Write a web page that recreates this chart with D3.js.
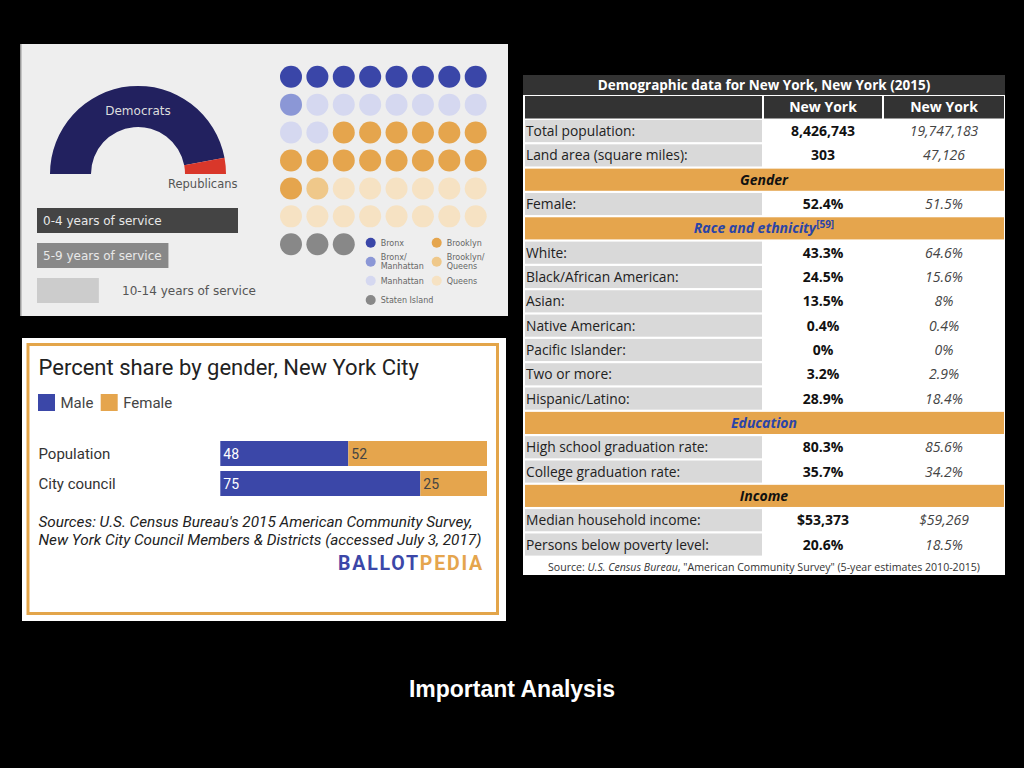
<!DOCTYPE html>
<html>
<head>
<meta charset="utf-8">
<script src="https://d3js.org/d3.v7.min.js"></script>
<style>
  body { margin: 0; background: #000; }
  svg { display: block; }
</style>
</head>
<body>
<script>
// --- council composition (51 members) ---
var parties = ['Democrats', 'Republicans'];
var partySeats = [48, 3];
var partyColors = ['#22215f', '#d9372a'];

var serviceLabels = ['0-4 years of service', '5-9 years of service', '10-14 years of service'];
var serviceCounts = [26, 17, 8];
var serviceColors = ['#444444', '#888888', '#cccccc'];

var boroughs = ['Bronx', 'Bronx/Manhattan', 'Manhattan', 'Brooklyn', 'Brooklyn/Queens', 'Queens', 'Staten Island'];
var boroughCounts = [8, 1, 9, 15, 1, 14, 3];
var boroughColors = ['#3a46a8', '#8b97d6', '#d5d8f0', '#e5a54d', '#efc88a', '#f6e2c3', '#888888'];

// --- gender share ---
var genderGroups = ['Population', 'City council'];
var malePct = [48, 75];
var femalePct = [52, 25];

// --- demographic table ---
var tableTitle = 'Demographic data for New York, New York (2015)';
var tableCols = ['New York', 'New York'];
var tableRows = [
  ['Total population:', '8,426,743', '19,747,183'],
  ['Land area (square miles):', '303', '47,126'],
  ['Gender'],
  ['Female:', '52.4%', '51.5%'],
  ['Race and ethnicity', '[59]'],
  ['White:', '43.3%', '64.6%'],
  ['Black/African American:', '24.5%', '15.6%'],
  ['Asian:', '13.5%', '8%'],
  ['Native American:', '0.4%', '0.4%'],
  ['Pacific Islander:', '0%', '0%'],
  ['Two or more:', '3.2%', '2.9%'],
  ['Hispanic/Latino:', '28.9%', '18.4%'],
  ['Education'],
  ['High school graduation rate:', '80.3%', '85.6%'],
  ['College graduation rate:', '35.7%', '34.2%'],
  ['Income'],
  ['Median household income:', '$53,373', '$59,269'],
  ['Persons below poverty level:', '20.6%', '18.5%']
];
var linkSections = ['Race and ethnicity', 'Education'];

var svg = d3.select('body').append('svg')
    .attr('width', 1024).attr('height', 768);

svg.append('rect').attr('width', 1024).attr('height', 768).attr('fill', '#000');

// ================= top-left panel =================
var p1 = svg.append('g');
p1.append('rect').attr('x', 20).attr('y', 44).attr('width', 488).attr('height', 272)
    .attr('fill', '#eeeeee');
p1.append('rect').attr('x', 20).attr('y', 44).attr('width', 1.5).attr('height', 272)
    .attr('fill', '#999');

var pie = d3.pie().sort(null).startAngle(-Math.PI / 2).endAngle(Math.PI / 2);
var arc = d3.arc().innerRadius(47).outerRadius(88);
var donut = p1.append('g').attr('transform', 'translate(138,174)');
donut.selectAll('path')
    .data(pie(partySeats))
    .enter().append('path')
    .attr('d', arc)
    .attr('fill', function (d, i) { return partyColors[i]; });

p1.append('text').attr('x', 138).attr('y', 115).attr('text-anchor', 'middle')
    .attr('font-family', 'DejaVu Sans').attr('font-size', 12).attr('fill', '#dddddd')
    .text(parties[0]);
p1.append('text').attr('x', 168).attr('y', 188)
    .attr('font-family', 'DejaVu Sans').attr('font-size', 11.5).attr('fill', '#555')
    .text(parties[1]);

var sx = d3.scaleLinear().domain([0, 26]).range([0, 201]);
var sy = d3.scaleBand().domain(serviceLabels).range([208, 303]).paddingInner(10 / 35);
p1.selectAll('.svc')
    .data(serviceLabels)
    .enter().append('rect')
    .attr('x', 37)
    .attr('y', function (d) { return sy(d); })
    .attr('width', function (d, i) { return sx(serviceCounts[i]); })
    .attr('height', sy.bandwidth())
    .attr('fill', function (d, i) { return serviceColors[i]; });
p1.selectAll('.svcl')
    .data(serviceLabels)
    .enter().append('text')
    .attr('x', function (d, i) { return i < 2 ? 43 : 122; })
    .attr('y', function (d) { return sy(d) + sy.bandwidth() / 2 + 4.5; })
    .attr('font-family', 'DejaVu Sans').attr('font-size', 12)
    .attr('fill', function (d, i) { return i < 2 ? '#e8e8e8' : '#555'; })
    .text(function (d) { return d; });

// dot grid
var dots = [];
boroughCounts.forEach(function (c, b) {
  for (var k = 0; k < c; k++) dots.push(b);
});
var dx = d3.scaleLinear().domain([0, 7]).range([291, 475.7]);
var dy = d3.scaleLinear().domain([0, 6]).range([76.7, 244.3]);
p1.selectAll('.dot')
    .data(dots)
    .enter().append('circle')
    .attr('cx', function (d, i) { return dx(i % 8); })
    .attr('cy', function (d, i) { return dy(Math.floor(i / 8)); })
    .attr('r', 11)
    .attr('fill', function (d) { return boroughColors[d]; });

// dot legend: two columns
var legPos = [[0, 0], [0, 1], [0, 2], [1, 0], [1, 1], [1, 2], [0, 3]];
var lx = [370.7, 436.7], ly = [242.7, 261.7, 280.7, 300];
var leg = p1.selectAll('.leg')
    .data(boroughs)
    .enter().append('g')
    .attr('transform', function (d, i) {
      return 'translate(' + lx[legPos[i][0]] + ',' + ly[legPos[i][1]] + ')';
    });
leg.append('circle').attr('r', 5).attr('fill', function (d, i) { return boroughColors[i]; });
leg.each(function (d) {
  var parts = d.indexOf('/') >= 0 ? [d.split('/')[0] + '/', d.split('/')[1]] : [d];
  var t = d3.select(this).append('text')
      .attr('font-family', 'DejaVu Sans').attr('font-size', 8).attr('fill', '#666');
  parts.forEach(function (p, j) {
    t.append('tspan').attr('x', 10)
        .attr('y', parts.length > 1 ? (j === 0 ? -1.5 : 7) : 3)
        .text(p);
  });
});

// ================= bottom-left panel =================
var p2 = svg.append('g');
p2.append('rect').attr('x', 22).attr('y', 338).attr('width', 484).attr('height', 283).attr('fill', '#fff');
p2.append('rect').attr('x', 28).attr('y', 344.5).attr('width', 469.5).attr('height', 269)
    .attr('fill', 'none').attr('stroke', '#e3a54a').attr('stroke-width', 3);

p2.append('text').attr('x', 38.5).attr('y', 375)
    .attr('font-family', 'Roboto').attr('font-size', 22).attr('fill', '#222')
    .text('Percent share by gender, New York City');

var gKeys = ['Male', 'Female'];
var gColors = ['#3b47a8', '#e5a54d'];
var gl = p2.selectAll('.gl').data(gKeys).enter().append('g')
    .attr('transform', function (d, i) { return 'translate(' + (i === 0 ? 38 : 100.7) + ',394)'; });
gl.append('rect').attr('width', 17).attr('height', 17).attr('fill', function (d, i) { return gColors[i]; });
gl.append('text').attr('x', 22.5).attr('y', 13.5)
    .attr('font-family', 'Roboto').attr('font-size', 15).attr('fill', '#444')
    .text(function (d) { return d; });

var gx = d3.scaleLinear().domain([0, 100]).range([220.3, 487]);
var gy = d3.scaleBand().domain(genderGroups).range([441, 496]).paddingInner(5 / 30);
var stackData = genderGroups.map(function (g, i) { return { group: g, Male: malePct[i], Female: femalePct[i] }; });
var series = d3.stack().keys(gKeys)(stackData);
var sg = p2.selectAll('.series').data(series).enter().append('g')
    .attr('fill', function (d, i) { return gColors[i]; });
sg.selectAll('rect').data(function (d) { return d; }).enter().append('rect')
    .attr('x', function (d) { return gx(d[0]); })
    .attr('y', function (d) { return gy(d.data.group); })
    .attr('width', function (d) { return gx(d[1]) - gx(d[0]); })
    .attr('height', gy.bandwidth());
sg.selectAll('text').data(function (d) { return d; }).enter().append('text')
    .attr('x', function (d) { return gx(d[0]) + 3; })
    .attr('y', function (d) { return gy(d.data.group) + gy.bandwidth() / 2 + 5; })
    .attr('font-family', 'Roboto').attr('font-size', 14)
    .attr('fill', function () { return d3.select(this.parentNode).datum().key === 'Male' ? '#fff' : '#444'; })
    .text(function (d) { return d[1] - d[0]; });

p2.selectAll('.glab').data(genderGroups).enter().append('text')
    .attr('x', 38.5)
    .attr('y', function (d) { return gy(d) + gy.bandwidth() / 2 + 5.5; })
    .attr('font-family', 'Roboto').attr('font-size', 15).attr('fill', '#333')
    .text(function (d) { return d; });

var srcLines = ["Sources: U.S. Census Bureau's 2015 American Community Survey,",
  'New York City Council Members & Districts (accessed July 3, 2017)'];
p2.selectAll('.src').data(srcLines).enter().append('text')
    .attr('x', 38.5).attr('y', function (d, i) { return 527 + i * 17.5; })
    .attr('font-family', 'Roboto').attr('font-size', 15.3).attr('font-style', 'italic').attr('fill', '#222')
    .text(function (d) { return d; });

var logo = p2.append('text').attr('x', 484).attr('y', 570).attr('text-anchor', 'end')
    .attr('font-family', 'Roboto').attr('font-weight', 'bold').attr('font-size', 19.5).attr('letter-spacing', 1.8);
logo.append('tspan').attr('fill', '#3b47a8').text('BALLOT');
logo.append('tspan').attr('fill', '#e5a54d').text('PEDIA');

// ================= table =================
var T = { x0: 523, x1: 1005, c1: 762, c2: 884, top: 75 };
var p3 = svg.append('g').attr('font-family', 'Open Sans');
p3.append('rect').attr('x', T.x0).attr('y', T.top).attr('width', T.x1 - T.x0).attr('height', 500).attr('fill', '#fff');
p3.append('rect').attr('x', T.x0).attr('y', T.top).attr('width', T.x1 - T.x0).attr('height', 20).attr('fill', '#333');
p3.append('text').attr('x', 764).attr('y', 89.5).attr('text-anchor', 'middle')
    .attr('font-weight', 'bold').attr('font-size', 13.5).attr('fill', '#fff').text(tableTitle);

// header row
var hx = [[T.x0 + 2, T.c1], [T.c1 + 2, T.c2 - 2], [T.c2, T.x1 - 1]];
p3.selectAll('.hd').data(hx).enter().append('rect')
    .attr('x', function (d) { return d[0]; }).attr('y', 96)
    .attr('width', function (d) { return d[1] - d[0]; }).attr('height', 22.5)
    .attr('fill', '#333');
p3.selectAll('.hdt').data(tableCols).enter().append('text')
    .attr('x', function (d, i) { return (hx[i + 1][0] + hx[i + 1][1]) / 2; }).attr('y', 112)
    .attr('text-anchor', 'middle').attr('font-weight', 'bold').attr('font-size', 14).attr('fill', '#fff')
    .text(function (d) { return d; });

var ry = d3.scaleBand().domain(d3.range(tableRows.length)).range([120, 120 + 24.2 * tableRows.length]).paddingInner(0.09);
var rows = p3.selectAll('.row').data(tableRows).enter().append('g')
    .attr('transform', function (d, i) { return 'translate(0,' + ry(i) + ')'; });
var bh = ry.bandwidth();

rows.each(function (d) {
  var g = d3.select(this);
  if (d.length < 3) {
    g.append('rect').attr('x', T.x0 + 2).attr('width', T.x1 - T.x0 - 3).attr('height', bh).attr('fill', '#e5a54d');
    var t = g.append('text').attr('x', 764).attr('y', bh / 2 + 5).attr('text-anchor', 'middle')
        .attr('font-weight', 'bold').attr('font-style', 'italic').attr('font-size', 14)
        .attr('fill', linkSections.indexOf(d[0]) >= 0 ? '#2a44a8' : '#111');
    t.append('tspan').text(d[0]);
    if (d[1]) t.append('tspan').attr('dy', -5).attr('font-size', 10).attr('font-style', 'normal').text(d[1]);
  } else {
    g.append('rect').attr('x', T.x0 + 2).attr('width', T.c1 - T.x0 - 2).attr('height', bh).attr('fill', '#d9d9d9');
    g.append('text').attr('x', T.x0 + 3).attr('y', bh / 2 + 5).attr('font-size', 13.8).attr('fill', '#222').text(d[0]);
    g.append('text').attr('x', (hx[1][0] + hx[1][1]) / 2).attr('y', bh / 2 + 5).attr('text-anchor', 'middle')
        .attr('font-weight', 'bold').attr('font-size', 14).attr('fill', '#111').text(d[1]);
    g.append('text').attr('x', (hx[2][0] + hx[2][1]) / 2).attr('y', bh / 2 + 5).attr('text-anchor', 'middle')
        .attr('font-style', 'italic').attr('font-size', 14).attr('fill', '#444').text(d[2]);
  }
});

var src = p3.append('text').attr('x', 764).attr('y', 571).attr('text-anchor', 'middle')
    .attr('font-size', 10.6).attr('fill', '#333');
src.append('tspan').text('Source: ');
src.append('tspan').attr('font-style', 'italic').text('U.S. Census Bureau');
src.append('tspan').text(', "American Community Survey" (5-year estimates 2010-2015)');

// ================= caption =================
svg.append('text').attr('x', 512).attr('y', 697).attr('text-anchor', 'middle')
    .attr('font-family', 'Liberation Sans').attr('font-weight', 'bold').attr('font-size', 23).attr('fill', '#fff')
    .text('Important Analysis');
</script>
</body>
</html>
